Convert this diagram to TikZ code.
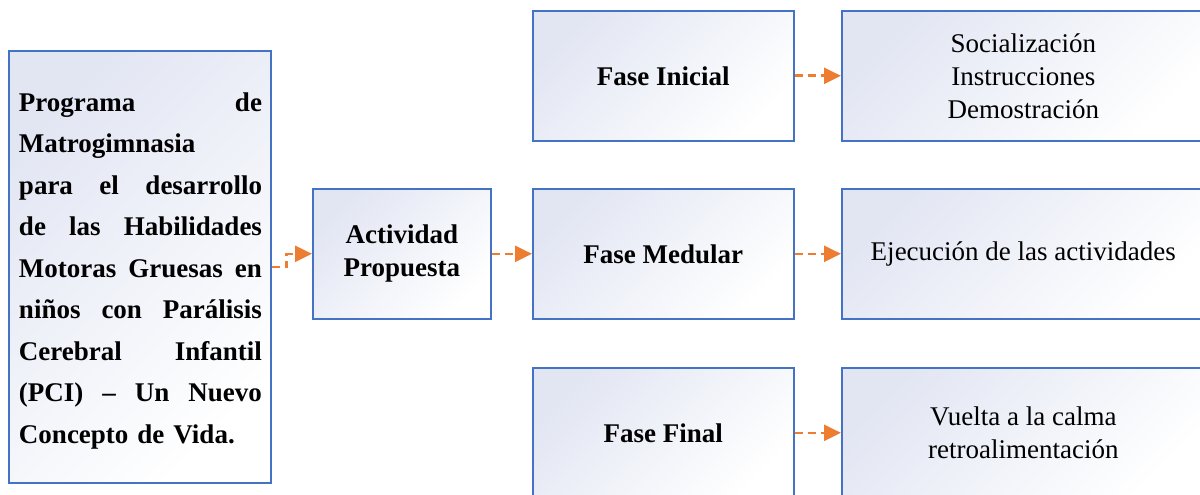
\documentclass[tikz,border=0pt]{standalone}
\usepackage{fontspec}
\setmainfont{Liberation Serif}
\usetikzlibrary{arrows.meta,calc}
\definecolor{boxblue}{RGB}{68,114,196}
\definecolor{arrorange}{RGB}{237,125,49}
\definecolor{boxshade}{RGB}{226,230,243}
\newcommand{\jline}[1]{\leavevmode\hbox to 243pt{#1}}
\begin{document}
\begin{tikzpicture}[x=1pt,y=-1pt,
  box/.style={draw=boxblue, line width=1.6pt, top color=boxshade, bottom color=white, shading angle=45, inner sep=0pt, anchor=north west},
  lbl/.style={font=\fontsize{27}{33}\selectfont\bfseries, align=center},
  txt/.style={font=\fontsize{27}{33}\selectfont, align=center},
  conn/.style={draw=arrorange, line width=2.6pt, dash pattern=on 8pt off 5pt, -{Triangle[length=17pt,width=16pt]}}
]
\useasboundingbox (0,0) rectangle (1200,495);
\clip (0,0) rectangle (1200,495);
% left program box
\node[box, minimum width=262pt, minimum height=432pt] (prog) at (8,50) {};
\node[inner sep=0pt, align=left, text width=243pt, font=\fontsize{27}{41.5}\selectfont\bfseries] (progtxt) at (140.5,271) {%
\jline{Programa\hfill de}\\
Matrogimnasia\\
\jline{para\hfill el\hfill desarrollo}\\
\jline{de\hfill las\hfill Habilidades}\\
\jline{Motoras\hfill Gruesas\hfill en}\\
\jline{niños\hfill con\hfill Parálisis}\\
\jline{Cerebral\hfill Infantil}\\
\jline{(PCI)\hfill –\hfill Un\hfill Nuevo}\\
Concepto de Vida.};
% activity box
\node[box, lbl, minimum width=178pt, minimum height=130pt] (act) at (312,188) {Actividad\\Propuesta};
% phases
\node[box, lbl, minimum width=261pt, minimum height=130pt] (ini) at (532,10) {Fase Inicial};
\node[box, lbl, minimum width=261pt, minimum height=130pt] (med) at (532,188) {Fase Medular};
\node[box, lbl, minimum width=261pt, minimum height=130pt] (fin) at (532,367) {Fase Final};
% details
\node[box, txt, minimum width=363pt, minimum height=130pt] (dini) at (841,10) {Socialización\\Instrucciones\\Demostración};
\node[box, txt, minimum width=363pt, minimum height=130pt] (dmed) at (841,188) {Ejecución de las actividades};
\node[box, txt, minimum width=363pt, minimum height=130pt] (dfin) at (841,367) {Vuelta a la calma\\retroalimentación};
% connectors
\draw[conn] (prog.east) -- ++(15,0) |- (act.west);
\draw[conn] (act.east) -- (med.west);
\draw[conn] (ini.east) -- (dini.west);
\draw[conn] (med.east) -- (dmed.west);
\draw[conn] (fin.east) -- (dfin.west);
\end{tikzpicture}
\end{document}
